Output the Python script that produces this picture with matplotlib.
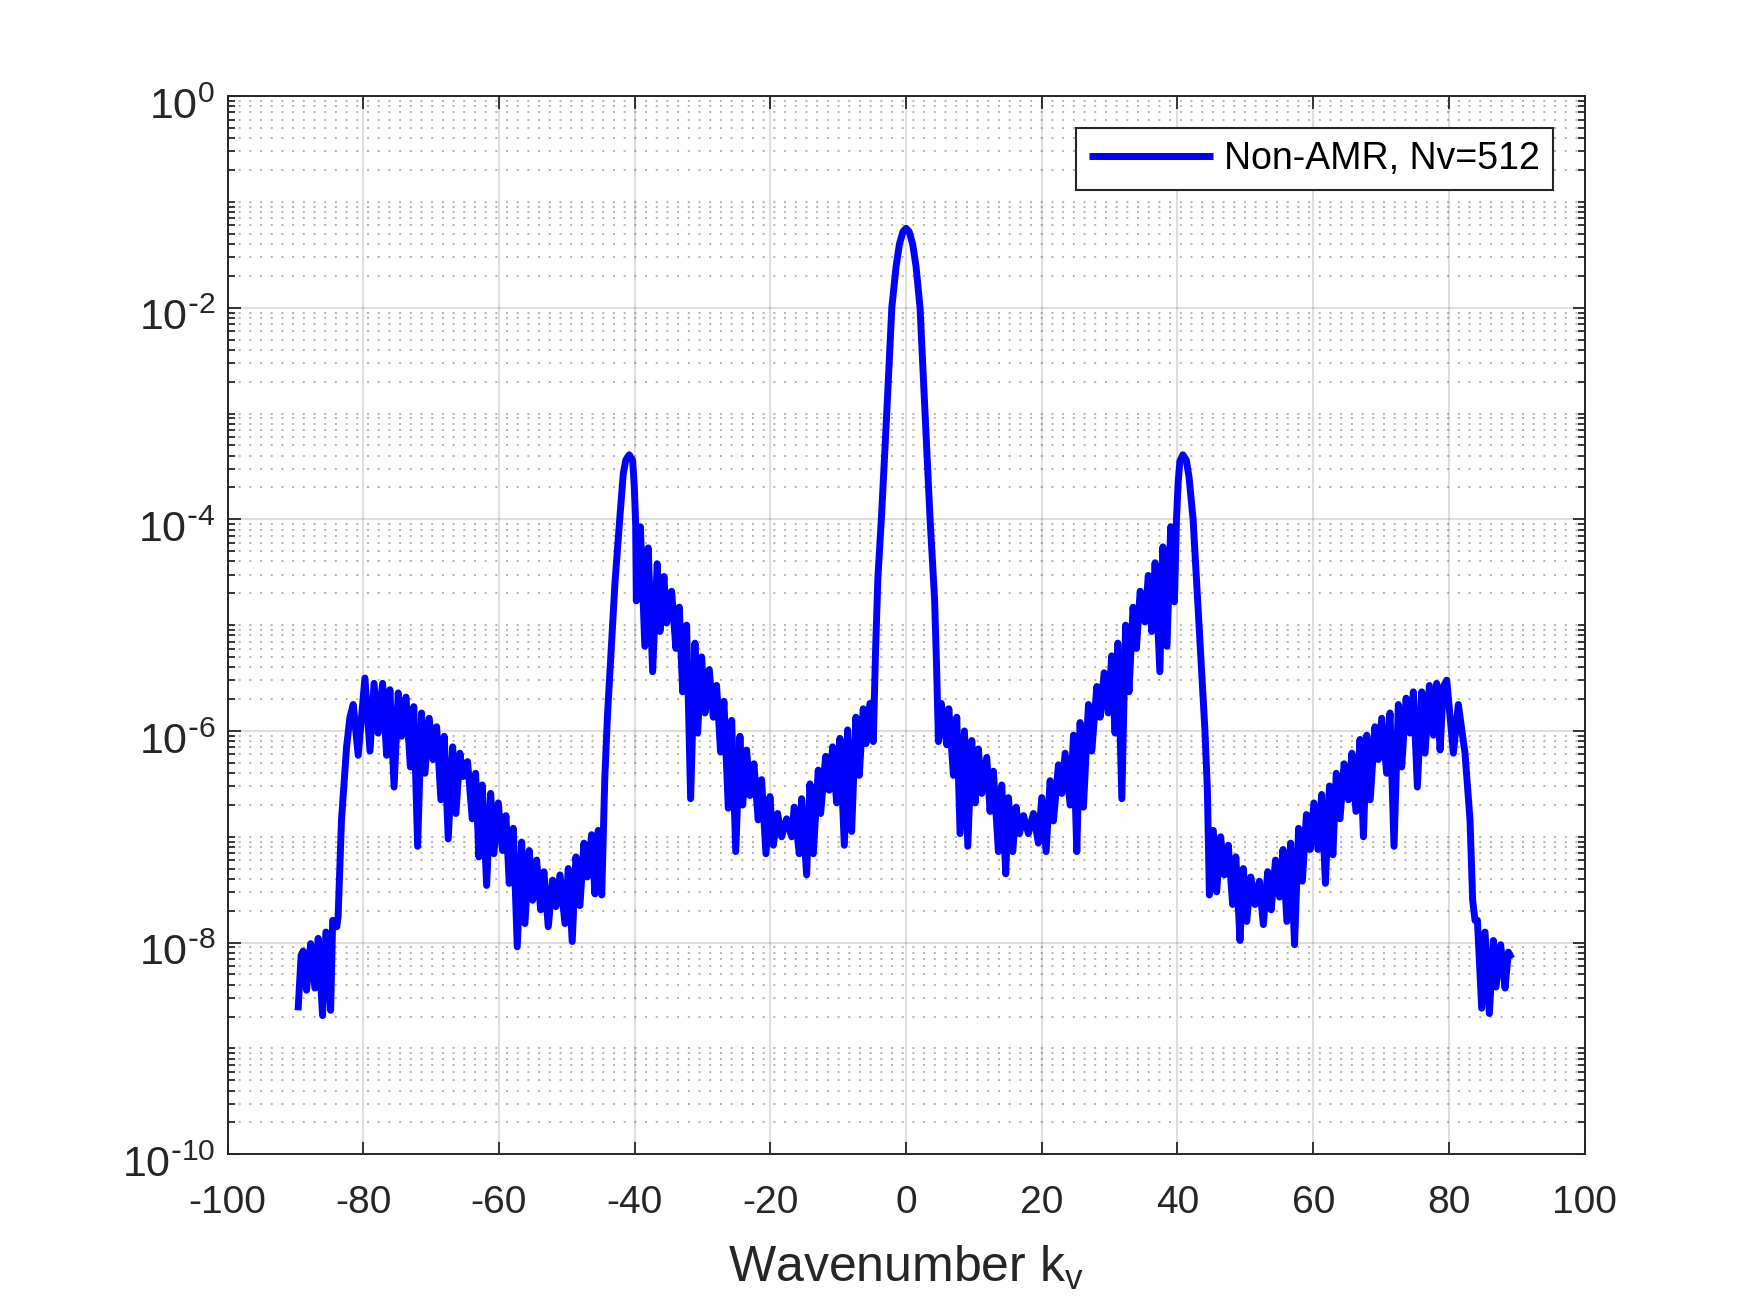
import numpy as np
import matplotlib
matplotlib.use("Agg")
import matplotlib.pyplot as plt
from matplotlib.ticker import LogLocator, NullFormatter, FixedLocator, FuncFormatter
from matplotlib.transforms import ScaledTranslation

plt.rcParams['font.family'] = ['Liberation Sans', 'DejaVu Sans']
plt.rcParams['mathtext.default'] = 'regular'
plt.rcParams['axes.unicode_minus'] = False

# ---- data: wavenumber k_v and log10 of spectrum amplitude ----
k_left_far = [-89.6, -89.15, -88.85, -88.35, -87.75, -87.12, -86.63, -85.99, -85.5, -84.8,
              -84.5, -83.9, -83.7, -83.2, -82.45, -81.96, -81.47, -80.74, -79.75, -79.0,
              -78.4, -77.8, -77.14, -76.55, -76.07, -75.45, -74.84, -74.35, -73.7, -73.05,
              -72.55, -71.98, -71.4, -70.9, -70.27, -69.68, -69.18, -68.55, -68.06, -67.47,
              -66.82, -66.34, -65.75, -65.26, -64.62, -63.93, -63.44, -62.95, -62.46, -61.81,
              -61.22, -60.74, -60.1, -59.46, -58.97, -58.48, -57.89, -57.3, -56.65, -56.17,
              -55.53, -55.03, -54.44, -53.85, -53.37, -52.73, -52.08, -51.6, -51.0, -50.27,
              -49.78, -49.2, -48.65, -48.06, -47.47, -46.98, -46.34, -45.85, -45.36, -44.85]
a_left_far = [-8.64, -8.12, -8.08, -8.45, -8.01, -8.43, -7.96, -8.69, -7.90, -8.64,
              -7.79, -7.85, -7.76, -6.84, -6.15, -5.87, -5.75, -6.23, -5.50, -6.19,
              -5.55, -6.02, -5.55, -6.23, -5.61, -6.53, -5.64, -6.05, -5.68, -6.34,
              -5.77, -7.09, -5.83, -6.40, -5.88, -6.27, -5.96, -6.65, -6.05, -7.02,
              -6.15, -6.78, -6.21, -6.43, -6.29, -6.83, -6.40, -7.19, -6.51, -7.46,
              -6.59, -7.16, -6.68, -7.13, -6.80, -7.44, -6.92, -8.04, -7.05, -7.82,
              -7.13, -7.60, -7.22, -7.69, -7.33, -7.85, -7.41, -7.66, -7.36, -7.82,
              -7.30, -7.99, -7.19, -7.65, -7.06, -7.38, -6.98, -7.54, -6.94, -7.55]

k_left_peak = [-44.4, -44.0, -43.6, -42.9, -42.2, -41.68, -41.3, -40.8, -40.3, -40.05, -39.85]
a_left_peak = [-6.45, -5.85, -5.40, -4.6, -4.0, -3.57, -3.44, -3.39, -3.44, -3.69, -4.05]

k_left_mid = [-39.75, -39.15, -38.5, -38.0, -37.35, -36.67, -36.27, -35.68, -35.29, -34.55,
              -33.92, -33.42, -32.93, -32.34, -31.75, -31.11, -30.72, -30.13, -29.64, -29.0,
              -28.41, -27.92, -27.33, -26.84, -26.2, -25.7, -25.1, -24.48, -24.08, -23.5,
              -23.0, -22.42, -21.79, -21.29, -20.65, -20.06, -19.57, -18.93, -18.34, -17.6,
              -16.86, -16.48, -15.74, -15.39, -14.65, -14.16, -13.67, -12.94, -12.59, -11.85,
              -11.32, -10.82, -10.23, -9.74, -9.1, -8.61, -8.02, -7.39, -6.9, -6.31,
              -5.91, -5.32, -4.83]
a_left_mid = [-4.77, -4.07, -5.20, -4.27, -5.44, -4.42, -5.06, -4.54, -4.98, -4.68,
              -5.22, -4.83, -5.63, -5.00, -6.64, -5.17, -6.02, -5.30, -5.83, -5.42,
              -5.87, -5.57, -6.20, -5.72, -6.73, -5.90, -7.14, -6.05, -6.70, -6.18,
              -6.61, -6.31, -6.84, -6.46, -7.16, -6.62, -7.08, -6.78, -7.00, -6.83,
              -7.00, -6.72, -7.16, -6.64, -7.36, -6.50, -7.16, -6.37, -6.78, -6.24,
              -6.56, -6.15, -6.68, -6.07, -7.08, -5.99, -6.95, -5.87, -6.42, -5.79,
              -6.12, -5.74, -6.10]

k_center = [-4.5, -4.15, -3.6, -2.85, -2.1, -1.47, -0.98, -0.45, 0.0,
            0.45, 0.98, 1.47, 2.06, 2.8, 3.54, 4.2, 4.5, 4.77]
a_center = [-5.25, -4.55, -3.95, -3.0, -2.0, -1.61, -1.40, -1.28, -1.25,
            -1.28, -1.40, -1.61, -2.0, -3.0, -4.0, -4.75, -5.4, -6.10]

k_right_mid = [5.2, 6.0, 6.3, 6.98, 7.47, 7.96, 8.6, 9.1, 9.68, 10.17,
               10.66, 11.15, 11.89, 12.38, 12.87, 13.61, 14.1, 14.69, 15.09, 15.72,
               16.22, 16.71, 17.3, 18.03, 18.77, 19.5, 20.0, 20.64, 21.23, 21.72,
               22.46, 22.95, 23.44, 24.18, 24.67, 25.16, 25.65, 26.14, 26.88, 27.37,
               28.11, 28.6, 29.19, 29.8, 30.3, 30.8, 31.2, 31.8, 32.35, 32.85,
               33.45, 33.95, 34.5, 35.2, 35.7, 36.2, 36.7, 37.4, 37.85, 38.45,
               39.0, 39.55]
a_right_mid = [-5.74, -6.13, -5.79, -6.42, -5.87, -6.97, -6.0, -7.09, -6.09, -6.68,
               -6.17, -6.59, -6.25, -6.76, -6.38, -7.14, -6.51, -7.35, -6.63, -7.14,
               -6.72, -6.97, -6.80, -6.97, -6.78, -7.06, -6.63, -7.14, -6.47, -6.85,
               -6.32, -6.59, -6.21, -6.70, -6.04, -7.14, -5.92, -6.72, -5.75, -6.19,
               -5.58, -5.87, -5.45, -5.83, -5.29, -6.02, -5.17, -6.64, -5.0, -5.63,
               -4.83, -5.22, -4.68, -4.97, -4.53, -5.06, -4.41, -5.44, -4.26, -5.20,
               -4.07, -4.78]

k_right_peak = [39.85, 40.1, 40.35, 40.8, 41.3, 41.7, 42.3, 43.0, 43.6, 44.05, 44.4, 44.7]
a_right_peak = [-4.0, -3.65, -3.45, -3.39, -3.44, -3.6, -4.0, -4.8, -5.5, -6.0, -6.55, -7.55]

k_right_far = [45.28, 45.77, 46.36, 46.9, 47.49, 48.13, 48.6, 49.21, 49.7, 50.2,
               50.8, 51.43, 52.07, 52.65, 53.3, 53.8, 54.45, 55.05, 55.55, 56.12,
               56.68, 57.25, 57.85, 58.4, 59.0, 59.55, 60.1, 60.7, 61.25, 61.8,
               62.4, 62.9, 63.4, 63.95, 64.55, 65.2, 65.7, 66.3, 66.9, 67.4,
               67.9, 68.4, 69.1, 69.6, 70.1, 70.83, 71.32, 71.91, 72.55, 73.04,
               73.69, 74.27, 74.76, 75.35, 75.99, 76.48, 77.12, 77.71, 78.2, 78.7,
               79.19, 79.68, 80.66, 81.39, 82.37, 83.11, 83.5, 83.85, 84.2, 84.83,
               85.32, 85.96, 86.55, 86.94, 87.63, 88.27, 88.76, 89.25]
a_right_far = [-6.94, -7.52, -7.0, -7.36, -7.08, -7.64, -7.19, -7.98, -7.30, -7.80,
               -7.38, -7.64, -7.42, -7.83, -7.33, -7.69, -7.22, -7.57, -7.12, -7.80,
               -7.06, -8.02, -6.92, -7.42, -6.79, -7.12, -6.68, -7.12, -6.60, -7.44,
               -6.52, -7.17, -6.40, -6.83, -6.31, -6.65, -6.21, -6.76, -6.08, -7.0,
               -6.04, -6.65, -5.96, -6.27, -5.88, -6.40, -5.83, -7.09, -5.75, -6.34,
               -5.69, -6.02, -5.63, -6.53, -5.63, -6.21, -5.57, -6.04, -5.55, -6.18,
               -5.58, -5.52, -6.21, -5.75, -6.21, -6.84, -7.6, -7.79, -7.79, -8.62,
               -7.90, -8.67, -7.98, -8.42, -8.02, -8.43, -8.09, -8.15]

series_label = 'Non-AMR, Nv=512'
x_ticks = [-100, -80, -60, -40, -20, 0, 20, 40, 60, 80, 100]
y_ticks = [1e-10, 1e-8, 1e-6, 1e-4, 1e-2, 1e0]

kv = np.concatenate([k_left_far, k_left_peak, k_left_mid, k_center,
                     k_right_mid, k_right_peak, k_right_far])
log_amp = np.concatenate([a_left_far, a_left_peak, a_left_mid, a_center,
                          a_right_mid, a_right_peak, a_right_far])
amp = 10.0 ** log_amp

# ---- figure ----
fig = plt.figure(figsize=(17.5, 13.02), dpi=100)
ax = fig.add_axes([0.130, 0.1135, 0.7755, 0.8127])

ax.plot(kv, amp, color=(0, 0, 1), lw=5.0, label=series_label,
        solid_joinstyle='round', solid_capstyle='butt', zorder=3)

ax.set_yscale('log')
ax.set_xlim(-100, 100)
ax.set_ylim(1e-10, 1e0)
ax.set_xticks(x_ticks)
ax.yaxis.set_major_locator(FixedLocator(y_ticks))


def sci_label(v, pos):
    e = int(round(np.log10(v)))
    if e < 0:
        return r'$10^{\text{-}%d}$' % (-e)
    return r'$10^{%d}$' % e


ax.yaxis.set_major_formatter(FuncFormatter(sci_label))
ax.yaxis.set_minor_locator(LogLocator(base=10, subs=np.arange(1, 10), numticks=200))
ax.yaxis.set_minor_formatter(NullFormatter())

dark = (0.15, 0.15, 0.15)
ax.grid(which='major', color=dark, alpha=0.15, lw=1.5, ls='-')
ax.grid(which='minor', axis='y', color=dark, alpha=0.35, lw=1.4, ls=(0, (1, 4.5)))
ax.set_axisbelow(True)

for s in ax.spines.values():
    s.set_color(dark)
    s.set_linewidth(1.4)
ax.tick_params(which='both', direction='in', top=True, right=True,
               colors=dark, width=1.3)
ax.tick_params(which='major', length=9)
ax.tick_params(axis='x', which='major', pad=22, labelsize=28)
ax.tick_params(axis='y', which='major', pad=9, labelsize=31)
ax.tick_params(which='minor', length=5)

# nudge y tick labels slightly downward (MATLAB-style placement)
shift = ScaledTranslation(0, -5 / 72, fig.dpi_scale_trans)
for tick in ax.yaxis.get_major_ticks():
    tick.label1.set_transform(tick.label1.get_transform() + shift)

ax.set_xlabel('Wavenumber k$_{v}$', fontsize=36, color=dark, labelpad=17)

leg = ax.legend(loc='upper right', fontsize=27, fancybox=False, framealpha=1,
                edgecolor=dark, borderpad=0.35, borderaxespad=0.85,
                handlelength=3.3, handletextpad=0.3)
leg.get_frame().set_linewidth(1.5)
for t in leg.get_texts():
    t.set_color('black')

fig.savefig('out.png', dpi=100, facecolor='white')
